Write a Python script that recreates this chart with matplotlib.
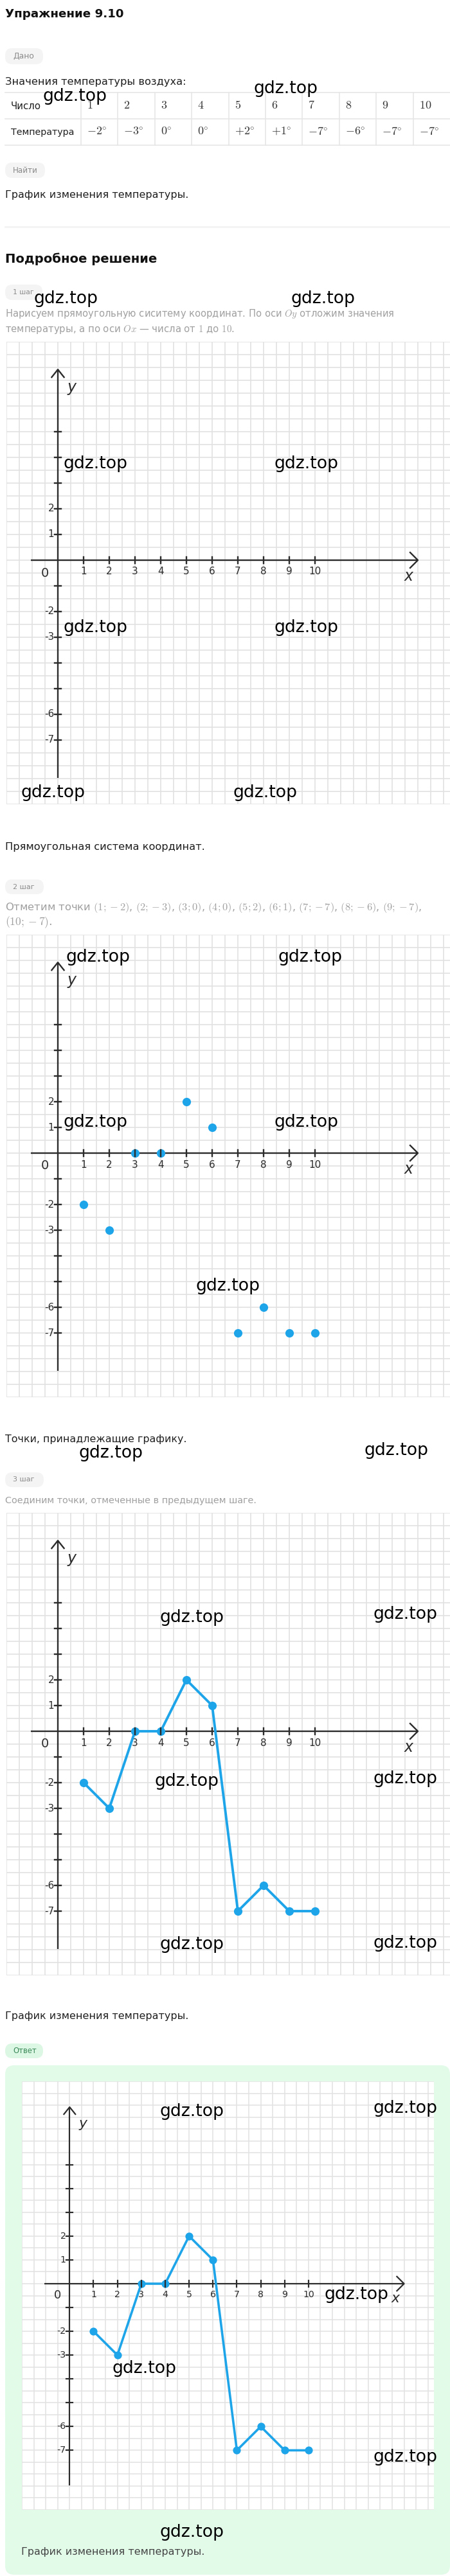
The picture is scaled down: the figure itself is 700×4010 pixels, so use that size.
import numpy as np
import matplotlib
matplotlib.use('Agg')
import matplotlib.pyplot as plt
from matplotlib.patches import FancyBboxPatch

plt.rcParams['font.family'] = ['DejaVu Sans']
plt.rcParams['mathtext.fontset'] = 'cm'

# data
numbers = [1, 2, 3, 4, 5, 6, 7, 8, 9, 10]
temps = [-2, -3, 0, 0, 2, 1, -7, -6, -7, -7]
y_tick_vals = [5, 4, 3, 2, 1, -1, -2, -3, -4, -5, -6, -7]
y_labels = [2, 1, -2, -3, -6, -7]

blue = '#1ea5e9'
axc = '#2b2b2b'
W, H = 700, 4010

fig = plt.figure(figsize=(W / 100, H / 100), dpi=100)
renderer = fig.canvas.get_renderer()
page = fig.add_axes([0, 0, 1, 1])
page.set_xlim(0, W)
page.set_ylim(H, 0)
page.axis('off')


def fit(t, width):
    # scale the font so the text spans the width measured on the reference
    w = t.get_window_extent(renderer).width
    t.set_fontsize(t.get_fontsize() * width / w)
    return t


def T(x, y, s, size, color='#1f1f1f', width=None, **kw):
    t = page.text(x, y, s, fontsize=size, color=color, va='center', ha='left', **kw)
    if width:
        fit(t, width)
    return t


def pill(x0, y0, x1, y1, label, width, bg='#f4f4f4', fg='#8a8a8a'):
    page.add_patch(FancyBboxPatch((x0, y0), x1 - x0, y1 - y0,
                                  boxstyle='round,pad=0,rounding_size=11',
                                  fc=bg, ec='none'))
    T(x0 + 12, (y0 + y1) / 2, label, 9.5, color=fg, width=width)


def place(x0, y0, x1, y1):
    return fig.add_axes([x0 / W, 1 - y1 / H, (x1 - x0) / W, (y1 - y0) / H])


def draw_plot(ax, k, points=False, line=False):
    ax.set_xlim(-2, 15.25)
    ax.set_ylim(-9.5, 8.5)
    ax.set_xticks(np.arange(-2, 15.3, 0.5))
    ax.set_yticks(np.arange(-9.5, 8.6, 0.5))
    ax.grid(True, color='#e2e2e2', lw=1.2 * k)
    ax.set_axisbelow(True)
    ax.tick_params(length=0, labelbottom=False, labelleft=False)
    for s in ax.spines.values():
        s.set_visible(False)
    ax.set_facecolor('white')
    lw = 1.7 * k
    # axes with open arrow heads
    ax.plot([-1.05, 14.0], [0, 0], color=axc, lw=lw, zorder=2, solid_capstyle='butt')
    ax.plot([13.7, 14.0, 13.7], [0.3, 0, -0.3], color=axc, lw=lw, zorder=2)
    ax.plot([0, 0], [-8.48, 7.42], color=axc, lw=lw, zorder=2, solid_capstyle='butt')
    ax.plot([-0.24, 0, 0.24], [7.12, 7.42, 7.12], color=axc, lw=lw, zorder=2)
    # ticks
    for n in numbers:
        ax.plot([n, n], [-0.13, 0.13], color=axc, lw=lw, zorder=5)
    for v in y_tick_vals:
        ax.plot([-0.13, 0.13], [v, v], color=axc, lw=lw, zorder=5)
    fs = 11 * k
    for n in numbers:
        ax.text(n, -0.45, str(n), fontsize=fs, ha='center', va='center', color=axc)
    for v in y_labels:
        ax.text(-0.15, v, str(v), fontsize=fs, ha='right', va='center', color=axc)
    ax.text(-0.5, -0.5, '0', fontsize=14 * k, ha='center', va='center', color=axc)
    ax.text(13.65, -0.62, 'x', fontsize=17 * k, ha='center', va='center',
            style='italic', color=axc)
    ax.text(0.55, 6.72, 'y', fontsize=17 * k, ha='center', va='center',
            style='italic', color=axc)
    if line:
        ax.plot(numbers, temps, '-', color=blue, lw=2.8 * k, zorder=3)
    if points or line:
        ax.plot(numbers, temps, 'o', color=blue, ms=9.5 * k, mec='none', zorder=3)


# header
T(8, 22, 'Упражнение 9.10', 13.5, weight='bold', color='#111111', width=185)
pill(8, 75, 67, 100, 'Дано', 33)
T(8, 127, 'Значения температуры воздуха:', 11, width=281)

# table
col0 = 126
colw = (W - col0) / len(numbers)
for yy in (144, 185, 226):
    page.plot([8, W], [yy, yy], color='#e6e6e6', lw=1.2)
for i in range(len(numbers)):
    xx = col0 + i * colw
    page.plot([xx, xx], [144, 226], color='#e6e6e6', lw=1.2)
T(17, 165, 'Число', 11, width=47)
T(17, 206, 'Температура', 11, width=99)
for i, (n, t) in enumerate(zip(numbers, temps)):
    xx = col0 + i * colw + 9
    T(xx, 164, '$%d$' % n, 13, color='#333333')
    if t > 0:
        s = '$+%d^{\\circ}$' % t
    else:
        s = '$%d^{\\circ}$' % t
    T(xx, 205, s, 13, color='#333333')

pill(8, 253, 70, 277, 'Найти', 39)
T(8, 303, 'График изменения температуры.', 11, width=285)
page.plot([8, W], [353, 353], color='#f3f3f3', lw=2)

T(8, 403, 'Подробное решение', 14, weight='bold', color='#111111', width=237)

# step 1
pill(8, 443, 66, 467, '1 шаг', 33)
gray = '#a0a0a0'
T(8, 488, 'Нарисуем прямоугольную сиситему координат. По оси $Oy$ отложим значения',
  10, color=gray, width=603)
T(8, 513, 'температуры, а по оси $Ox$ — числа от $1$ до $10$.', 10, color=gray, width=358)
draw_plot(place(10, 532, 700, 1252), 1.0)
T(8, 1318, 'Прямоугольная система координат.', 11, width=312)

# step 2
pill(8, 1369, 68, 1392, '2 шаг', 34)
pts = ['$(%d;%d)$' % (n, t) for n, t in zip(numbers, temps)]
T(8, 1413, 'Отметим точки ' + ', '.join(pts[:9]) + ',', 10, color=gray, width=649)
T(8, 1436, pts[9] + '.', 10, color=gray, width=74)
draw_plot(place(10, 1455, 700, 2175), 1.0, points=True)
T(8, 2240, 'Точки, принадлежащие графику.', 11, width=282)

# step 3
pill(8, 2292, 68, 2315, '3 шаг', 34)
T(8, 2336, 'Соединим точки, отмеченные в предыдущем шаге.', 10, color=gray, width=394)
draw_plot(place(10, 2355, 700, 3075), 1.0, line=True)
T(8, 3138, 'График изменения температуры.', 11, width=285)

# answer
pill(8, 3181, 67, 3204, 'Ответ', 37, bg='#dcf7e4', fg='#3d8a5a')
page.add_patch(FancyBboxPatch((8, 3215), W - 8, 4008 - 3215,
                              boxstyle='round,pad=0,rounding_size=14',
                              fc='#e2fbe9', ec='none'))
draw_plot(place(34, 3240, 675, 3907), 37.1 / 40, line=True)
T(33, 3972, 'График изменения температуры.', 11, color='#444444', width=285)

# watermarks
wm_x = [66, 395, 52, 452, 98, 427, 98, 427, 33, 363, 102, 432, 98, 427, 305,
        123, 566, 249, 580, 241, 580, 249, 580, 249, 580, 505, 175, 580, 249]
wm_y = [150, 138, 465, 465, 722, 722, 977, 977, 1234, 1234, 1490, 1490, 1747, 1747, 2002,
        2262, 2258, 2518, 2513, 2773, 2769, 3027, 3025, 3287, 3282, 3572, 3687, 3825, 3942]
for x, y in zip(wm_x, wm_y):
    wt = fig.text(x / W, 1 - y / H, 'gdz.top', fontsize=19, color='black',
                  ha='left', va='center', zorder=10)
    fit(wt, 100)

fig.savefig('out.png', dpi=100)
